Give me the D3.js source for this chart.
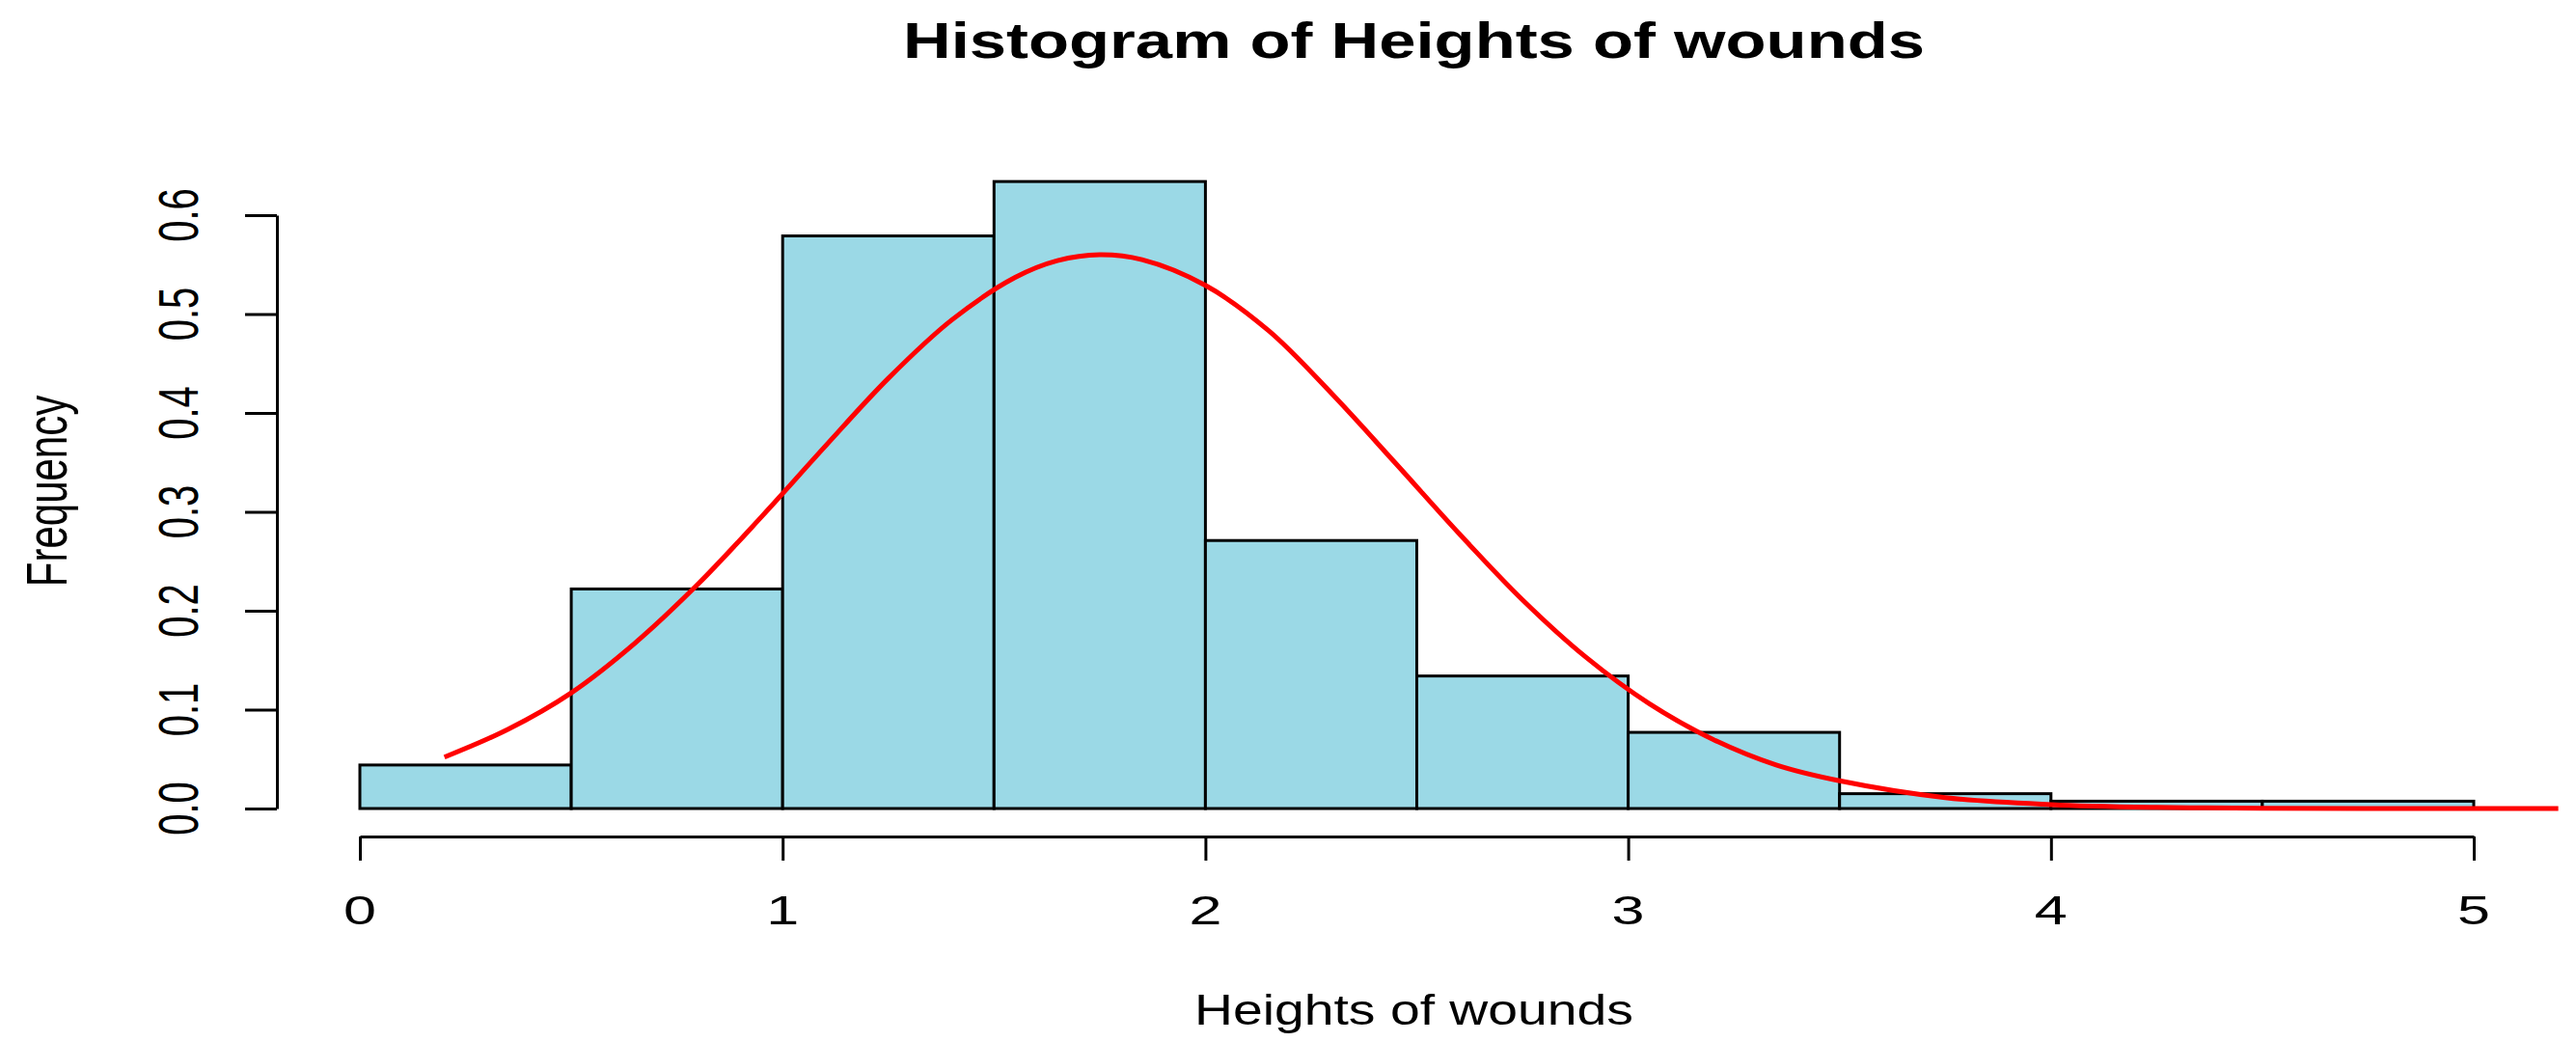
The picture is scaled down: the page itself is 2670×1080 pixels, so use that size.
<!DOCTYPE html>
<html>
<head>
<meta charset="utf-8">
<script src="https://cdn.jsdelivr.net/npm/d3@7"></script>
<style>
    body { margin: 0; background: #fff; }
    text { font-family: "Liberation Sans", Arial, sans-serif; fill: #000; }
</style>
</head>
<body>
<div id="chart"></div>
<script>
// histogram bins (density scale)
var binStarts = [0, 0.5, 1.0, 1.5, 2.0, 2.5, 3.0, 3.5, 4.0, 4.5];
var binEnds   = [0.5, 1.0, 1.5, 2.0, 2.5, 3.0, 3.5, 4.0, 4.5, 5.0];
var binDensity = [0.044, 0.222, 0.579, 0.634, 0.271, 0.134, 0.077, 0.015, 0.0074, 0.0074];

// red curve
var curveX = [0.2, 0.35, 0.5, 0.65, 0.8, 0.95, 1.1, 1.25, 1.4, 1.55, 1.65, 1.75, 1.85, 2.0, 2.15, 2.3, 2.45, 2.6, 2.75, 2.9, 3.05, 3.2, 3.35, 3.5, 3.75, 4.0, 4.25, 4.5, 5.0, 5.2];
var curveY = [0.052, 0.080, 0.117, 0.167, 0.227, 0.295, 0.366, 0.435, 0.494, 0.537, 0.554, 0.560, 0.555, 0.529, 0.483, 0.419, 0.349, 0.278, 0.211, 0.153, 0.106, 0.070, 0.044, 0.028, 0.011, 0.004, 0.0012, 0.0003, 0, 0];

var xTicks = [0, 1, 2, 3, 4, 5];
var yTicks = [0, 0.1, 0.2, 0.3, 0.4, 0.5, 0.6];

var _width = 2670,
    _height = 1080,
    _sx = 1.42,           // picture is stretched horizontally
    _barFill = '#9bd9e6',
    _curveColor = '#ff0000';

var svg = d3.select('#chart').append('svg')
    .attr('width', _width)
    .attr('height', _height);

var x = d3.scaleLinear().domain([0, 5]).range([373, 2564]);
var y = d3.scaleLinear().domain([0, 0.6]).range([838, 223]);

// BARS
// ----------------------------------------------------------------
svg.append('g').selectAll('rect')
    .data(binDensity)
    .enter().append('rect')
    .attr('x', function (d, i) { return x(binStarts[i]); })
    .attr('y', function (d) { return y(d); })
    .attr('width', function (d, i) { return x(binEnds[i]) - x(binStarts[i]); })
    .attr('height', function (d) { return y(0) - y(d); })
    .attr('fill', _barFill)
    .attr('stroke', '#000')
    .attr('stroke-width', 3);

// CURVE
// ----------------------------------------------------------------
var pts = curveX.map(function (v, i) { return [v, curveY[i]]; });
var line = d3.line()
    .x(function (d) { return x(d[0]); })
    .y(function (d) { return y(d[1]); })
    .curve(d3.curveCatmullRom);

svg.append('path')
    .datum(pts)
    .attr('d', line)
    .attr('fill', 'none')
    .attr('stroke', _curveColor)
    .attr('stroke-width', 5);

// AXES
// ----------------------------------------------------------------
var gy = svg.append('g')
    .attr('transform', 'translate(287,0)')
    .call(d3.axisLeft(y).tickValues(yTicks).tickSize(33).tickSizeOuter(0).tickFormat(''));

var gx = svg.append('g')
    .attr('transform', 'translate(0,867)')
    .call(d3.axisBottom(x).tickValues(xTicks).tickSize(25).tickSizeOuter(0).tickFormat(''));

[gy, gx].forEach(function (g) {
    g.selectAll('path, line').attr('stroke', '#000').attr('stroke-width', 3);
});

svg.append('g').selectAll('text')
    .data(yTicks)
    .enter().append('text')
    .attr('transform', function (d) {
        return 'translate(205,' + y(d) + ') scale(' + _sx + ',1) rotate(-90)';
    })
    .attr('text-anchor', 'middle')
    .style('font-size', '40px')
    .text(d3.format('.1f'));

svg.append('g').selectAll('text')
    .data(xTicks)
    .enter().append('text')
    .attr('transform', function (d) {
        return 'translate(' + x(d) + ',958) scale(' + _sx + ',1)';
    })
    .attr('text-anchor', 'middle')
    .style('font-size', '43px')
    .text(function (d) { return d; });

// LABELS / TITLE
// ----------------------------------------------------------------
svg.append('text')
    .attr('transform', 'translate(69,509) scale(' + _sx + ',1) rotate(-90)')
    .attr('text-anchor', 'middle')
    .style('font-size', '42px')
    .text('Frequency');

svg.append('text')
    .attr('x', 1238)
    .attr('y', 1062)
    .attr('textLength', 455)
    .attr('lengthAdjust', 'spacingAndGlyphs')
    .style('font-size', '44px')
    .text('Heights of wounds');

svg.append('text')
    .attr('x', 936)
    .attr('y', 60)
    .attr('textLength', 1059)
    .attr('lengthAdjust', 'spacingAndGlyphs')
    .style('font-size', '52px')
    .style('font-weight', 'bold')
    .text('Histogram of Heights of wounds');
</script>
</body>
</html>
